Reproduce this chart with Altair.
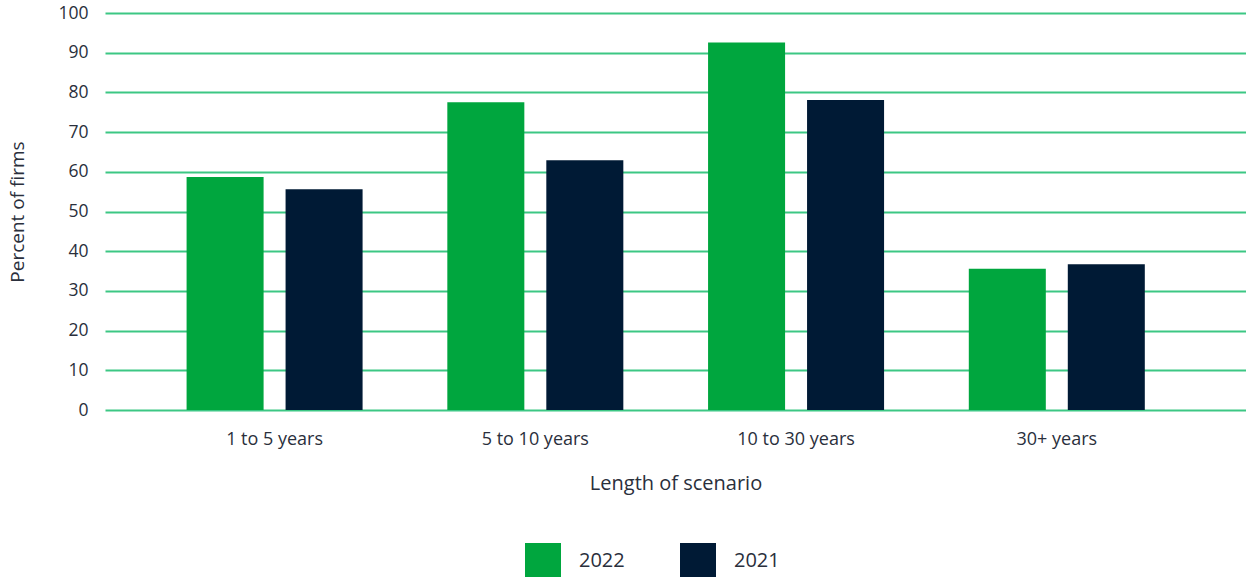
import altair as alt
import pandas as pd

# Share of firms by scenario length, two survey years
categories = ["1 to 5 years", "5 to 10 years", "10 to 30 years", "30+ years"]
years = ["2022", "2021"]
values_2022 = [58.7, 77.5, 92.6, 35.6]
values_2021 = [55.6, 62.9, 78.1, 36.7]
y_ticks = list(range(0, 101, 10))

colors = ["#00A63E", "#001A35"]
grid_color = "#3CC784"
text_color = "#2A2F3C"
font = "Open Sans"

rows = []
for cat, a, b in zip(categories, values_2022, values_2021):
    rows.append({"scenario": cat, "year": "2022", "pct": a})
    rows.append({"scenario": cat, "year": "2021", "pct": b})
df = pd.DataFrame(rows)

chart = (
    alt.Chart(df)
    .mark_bar()
    .encode(
        x=alt.X(
            "scenario:N",
            sort=categories,
            title="Length of scenario",
            scale=alt.Scale(paddingInner=0, paddingOuter=0.188, align=0.4),
            axis=alt.Axis(
                labelAngle=0,
                labelPadding=20,
                labelFontSize=18,
                titleFontSize=20,
                titlePadding=25,
                ticks=False,
                domain=False,
                grid=False,
            ),
        ),
        xOffset=alt.XOffset(
            "year:N",
            sort=years,
            scale=alt.Scale(paddingInner=0.222, paddingOuter=0.428),
        ),
        y=alt.Y(
            "pct:Q",
            title="Percent of firms",
            scale=alt.Scale(domain=[0, 100], nice=False),
            axis=alt.Axis(
                values=y_ticks,
                labelPadding=17,
                labelFontSize=17.5,
                titleFontSize=19,
                titlePadding=30,
                ticks=False,
                domain=False,
                grid=True,
                gridColor=grid_color,
                gridWidth=2,
            ),
        ),
        color=alt.Color(
            "year:N",
            sort=years,
            scale=alt.Scale(domain=years, range=colors),
            legend=alt.Legend(
                title=None,
                orient="none",
                direction="horizontal",
                legendX=420,
                legendY=530,
                symbolType="square",
                symbolSize=1296,
                symbolStrokeWidth=0,
                symbolOpacity=1,
                labelFontSize=20,
                labelOffset=18,
                columnPadding=55,
                padding=0,
            ),
        ),
    )
    .properties(
        width=1141,
        height=397,
        autosize=alt.AutoSizeParams(type="none"),
        padding={"left": 105, "top": 13, "right": 0, "bottom": 167},
    )
    .configure_view(stroke=None)
    .configure_axis(
        labelFont=font,
        titleFont=font,
        labelColor=text_color,
        titleColor=text_color,
        titleFontWeight="normal",
    )
    .configure_legend(labelFont=font, labelColor=text_color)
)

chart.save("out.html", embed_options={"renderer": "svg", "actions": False})
